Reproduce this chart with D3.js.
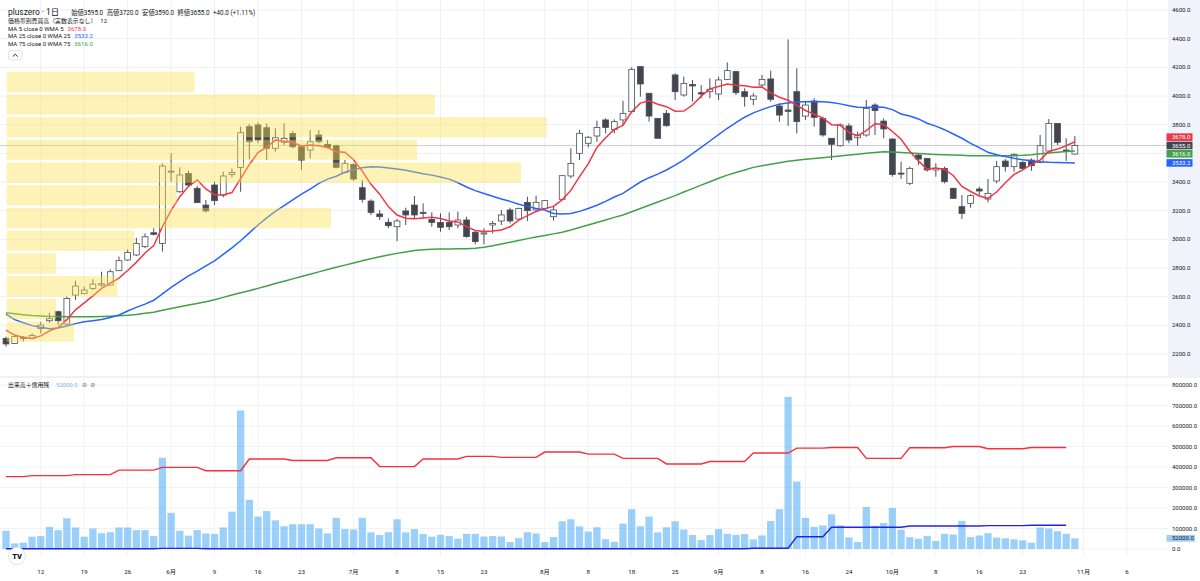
<!DOCTYPE html>
<html>
<head>
<meta charset="utf-8">
<script src="https://cdn.jsdelivr.net/npm/d3@7/dist/d3.min.js"></script>
<style>
body { margin: 0; background: #fff; }
svg text { font-family: Roboto, "Noto Sans CJK JP", sans-serif; fill: #131722; }
</style>
</head>
<body>
<svg id="chart" width="1200" height="581"></svg>
<script>
// daily bars, 2025-05-02 .. 2025-10-31 (index 0..123)
const opens = [2309,2274,2318,2309,2377,2432,2495,2409,2611,2623,2658,2681,2681,2781,2856,2891,2949,3046,2972,3470,
  3332,3460,3356,3239,3379,3309,3453,3502,3786,3798,3779,3635,3677,3739,3646,3623,3728,3663,3653,3467,
  3523,3360,3267,3177,3119,3088,3198,3239,3188,3139,3118,3118,3100,3135,3049,3037,3100,3128,3205,3142,
  3258,3205,3216,3158,3279,3442,3600,3670,3721,3833,3767,3833,3891,4205,4019,3844,3879,4147,4007,4081,
  4023,4030,4014,4116,4170,4030,3977,4077,4119,3930,3902,4030,3860,3965,3844,3705,3653,3791,3709,3728,
  3937,3825,3700,3462,3391,3588,3565,3484,3495,3356,3228,3251,3351,3281,3407,3546,3507,3537,3553,3537,
  3616,3809,3623,3595];
const highs = [2321,2332,2325,2344,2425,2488,2502,2600,2711,2670,2721,2774,2790,2879,2930,3011,3042,3077,3530,3600,
  3502,3479,3372,3274,3402,3472,3495,3786,3805,3815,3809,3774,3809,3756,3658,3763,3763,3693,3660,3553,
  3530,3414,3279,3205,3146,3142,3221,3302,3251,3188,3181,3188,3193,3158,3065,3077,3128,3205,3221,3221,
  3297,3305,3274,3228,3449,3635,3763,3721,3828,3844,3837,3967,4200,4205,4019,3844,3902,4158,4135,4112,
  4077,4123,4135,4235,4177,4054,4019,4147,4177,3949,4395,4193,3960,3984,3856,3705,3809,3809,3751,3972,
  3949,3844,3705,3542,3507,3600,3565,3530,3507,3360,3309,3314,3367,3421,3546,3560,3600,3546,3565,3728,
  3840,3809,3705,3720];
const lows = [2251,2270,2288,2304,2344,2418,2402,2402,2577,2620,2646,2670,2681,2781,2851,2884,2939,3028,2914,3402,
  3325,3367,3256,3188,3239,3293,3432,3332,3558,3670,3553,3612,3658,3635,3484,3565,3670,3635,3495,3460,
  3407,3256,3170,3135,3077,2988,3100,3146,3146,3088,3053,3065,3077,3011,2965,2965,3042,3100,3111,3128,
  3128,3200,3205,3130,3274,3426,3553,3642,3681,3740,3740,3798,3880,3995,3821,3705,3786,3972,3995,3960,
  3984,3984,3972,4112,4007,3926,3937,4065,3960,3821,3791,3739,3833,3786,3716,3553,3646,3670,3653,3716,
  3728,3705,3437,3421,3379,3519,3472,3437,3391,3283,3142,3221,3309,3258,3391,3472,3472,3484,3477,3530,
  3600,3658,3546,3590];
const closes = [2270,2321,2309,2330,2402,2446,2432,2588,2674,2646,2688,2690,2774,2851,2909,2972,3018,3035,3511,3476,
  3449,3379,3256,3198,3270,3442,3467,3744,3681,3693,3635,3709,3705,3646,3553,3681,3681,3642,3502,3530,
  3421,3279,3188,3158,3095,3128,3170,3170,3181,3118,3084,3088,3135,3019,2984,3045,3111,3170,3128,3216,
  3200,3258,3270,3205,3444,3530,3740,3712,3781,3781,3821,3879,4186,4084,3860,3705,3793,4030,4088,4070,
  4014,4047,4112,4177,4023,3995,4000,4116,3977,3867,3893,3821,3937,3851,3728,3663,3798,3693,3728,3914,
  3898,3770,3453,3458,3495,3560,3484,3495,3402,3286,3181,3305,3337,3321,3507,3507,3593,3495,3514,3653,
  3809,3677,3612,3655];
const volumes = [89000,27000,31000,60000,63000,108000,92000,150000,105000,60000,100000,77000,82000,105000,105000,92000,92000,63000,445000,176000,
  89000,65000,92000,76000,73000,105000,182000,676000,240000,158000,185000,140000,111000,121000,121000,121000,100000,76000,152000,97000,
  95000,152000,81000,68000,82000,145000,81000,97000,73000,60000,69000,63000,50000,74000,74000,61000,63000,61000,34000,53000,
  82000,76000,34000,58000,135000,145000,110000,85000,106000,48000,35000,124000,194000,111000,158000,81000,106000,135000,95000,68000,
  44000,68000,97000,74000,69000,73000,47000,66000,137000,194000,742000,329000,152000,108000,115000,169000,116000,56000,34000,205000,
  113000,127000,200000,94000,58000,50000,63000,39000,74000,71000,137000,58000,66000,77000,56000,52000,47000,42000,31000,105000,
  100000,87000,74000,52000];

// moving averages (MA5 first bars need earlier history)
const ma5Lead = [2367, 2332, 2316, 2309];
const ma25 = [2478,2440,2418,2398,2386,2376,2382,2395,2412,2425,2432,2440,2455,2472,2500,2525,2548,2575,2620,2665,
  2705,2745,2778,2815,2850,2895,2940,2990,3045,3100,3150,3195,3235,3275,3315,3350,3390,3420,3440,3468,
  3485,3500,3507,3505,3498,3490,3482,3470,3458,3448,3435,3420,3395,3365,3340,3320,3300,3282,3265,3245,
  3230,3215,3205,3180,3176,3180,3195,3215,3238,3265,3295,3321,3360,3400,3430,3455,3484,3518,3555,3598,
  3642,3686,3730,3775,3815,3852,3882,3905,3926,3942,3952,3958,3960,3961,3960,3955,3945,3932,3921,3920,
  3924,3922,3905,3875,3860,3840,3810,3790,3765,3735,3705,3670,3640,3607,3590,3577,3565,3556,3548,3542,
  3538,3536,3534,3533];
const ma75 = [2487,2480,2474,2468,2465,2462,2461,2460,2460,2460,2460,2462,2464,2466,2470,2476,2484,2492,2505,2518,
  2530,2542,2553,2565,2578,2595,2612,2627,2642,2658,2675,2692,2708,2724,2740,2757,2773,2790,2805,2820,
  2835,2850,2865,2878,2890,2902,2912,2922,2928,2930,2932,2933,2934,2935,2937,2945,2955,2968,2980,2992,
  3005,3016,3026,3038,3050,3065,3082,3100,3118,3135,3153,3170,3192,3215,3238,3260,3282,3305,3330,3354,
  3378,3402,3426,3448,3466,3484,3502,3514,3524,3534,3544,3552,3558,3564,3570,3576,3582,3588,3594,3600,
  3606,3611,3610,3606,3602,3598,3595,3592,3590,3588,3586,3584,3584,3583,3583,3583,3584,3586,3590,3597,
  3603,3608,3612,3616];

// weekly margin balances (bar index of the Friday they apply from)
const marginFri = [0,3,8,13,18,23,28,33,38,43,48,53,57,62,67,71,76,81,86,91,95,99,104,109,113,118];
const marginBuy = [353000,358000,363000,385000,398000,382000,439000,432000,445000,402000,439000,452000,447000,
  473000,463000,442000,415000,427000,468000,492000,495000,442000,494000,500000,489000,495000];
const marginSell = [1000,1000,1000,1000,3000,1000,1000,1000,1000,1000,1000,1000,1000,
  1000,1000,1000,1000,1000,4000,60000,106000,106000,112000,112000,114000,116000];
const marginLast = 122;

// volume-at-price profile, 12 rows from low to high
const profileLow = 2277, profileHigh = 4178;
const profileVol = [1250, 920, 2060, 920, 2374, 6035, 3165, 9568, 7636, 10046, 7967, 3496];

// time axis ticks (bar index, label)
const tickIdx = [4,9,14,19,24,29,34,40,45,50,55,62,67,72,77,82,87,92,97,102,107,112,117,124,129];
const tickLabels = ["12","19","26","6月","9","16","23","7月","8","15","23","8月","8","18","25","9月","8","16","24","10月","8","16","23","11月","6"];

const priceTicks = d3.range(2200, 4601, 200);
const volTicks = d3.range(0, 800001, 100000);

const lastVals = { ma5: 3678.0, close: 3655.0, ma75: 3616.0, ma25: 3533.2, vol: 52000 };

// ---------------------------------------------------------------
let svg = d3.select("#chart");
let plotW = 1168;
let mainH = 376, volTop = 378, volBottom = 556;
let step = 8.69;
let n = closes.length;

let x = d3.scaleLinear().domain([0, n - 1]).range([6, 6 + (n - 1) * step]);
let y = d3.scaleLinear().domain([2200, 4600]).range([354, 10]);
let yv = d3.scaleLinear().domain([0, 800000]).range([549, 385]);
let fmt = d3.format(".1f");

let ma5 = closes.map((c, i) => i < ma5Lead.length ? ma5Lead[i] : d3.mean(closes.slice(i - 4, i + 1)));

let defs = svg.append("defs");
defs.append("clipPath").attr("id", "clip-main").append("rect").attr("width", plotW).attr("height", mainH);
defs.append("clipPath").attr("id", "clip-vol").append("rect").attr("y", volTop).attr("width", plotW).attr("height", volBottom - volTop);

// axis background of the price pane
svg.append("rect").attr("x", plotW).attr("y", 0).attr("width", 1200 - plotW).attr("height", mainH).style("fill", "#f0f3fa");

// grid
let grid = svg.append("g");
grid.selectAll(".hg").data(priceTicks).join("line")
  .attr("x1", 0).attr("x2", plotW).attr("y1", d => y(d)).attr("y2", d => y(d))
  .style("stroke", "#eef0f5");
grid.selectAll(".vhg").data(volTicks).join("line")
  .attr("x1", 0).attr("x2", plotW).attr("y1", d => yv(d)).attr("y2", d => yv(d))
  .style("stroke", "#f1f2f6");
tickIdx.forEach(function(t) {
  grid.append("line").attr("x1", x(t)).attr("x2", x(t)).attr("y1", 0).attr("y2", mainH).style("stroke", "#eef0f5");
  grid.append("line").attr("x1", x(t)).attr("x2", x(t)).attr("y1", volTop).attr("y2", volBottom).style("stroke", "#f1f2f6");
});

// pane separator
svg.append("line").attr("x1", 0).attr("x2", 1200).attr("y1", mainH + 1).attr("y2", mainH + 1).style("stroke", "#e0e3eb");

// main pane
let main = svg.append("g").attr("clip-path", "url(#clip-main)");

main.append("line")
  .attr("x1", 0).attr("x2", plotW)
  .attr("y1", y(lastVals.close)).attr("y2", y(lastVals.close))
  .style("stroke", "#c9ccd3").style("stroke-width", 1);

let bodyW = 5.8;
let candles = main.append("g");
closes.forEach(function(c, i) {
  let o = opens[i], up = c >= o;
  let g = candles.append("g");
  g.append("line")
    .attr("x1", x(i)).attr("x2", x(i))
    .attr("y1", y(highs[i])).attr("y2", y(lows[i]))
    .style("stroke", "#4a4d57").style("stroke-width", 1);
  let top = y(Math.max(o, c)), bot = y(Math.min(o, c));
  g.append("rect")
    .attr("x", x(i) - bodyW / 2).attr("y", top)
    .attr("width", bodyW).attr("height", Math.max(1, bot - top))
    .style("fill", up ? "#fff" : "#434651")
    .style("stroke", "#4a4d57").style("stroke-width", 0.8);
});

let maLine = d3.line().x((d, i) => x(i)).y(d => y(d));
[[ma75, "#43a047"], [ma25, "#2962ff"], [ma5, "#f23645"]].forEach(function(m) {
  main.append("path").datum(m[0]).attr("d", maLine)
    .style("fill", "none").style("stroke", m[1]).style("stroke-width", 1.5);
});

// volume profile on top (translucent), anchored at the first bar
let rowStep = (profileHigh - profileLow) / profileVol.length;
let px = d3.scaleLinear().domain([0, d3.max(profileVol)]).range([0, plotW * 0.4623]);
main.append("g").selectAll("rect").data(profileVol).join("rect")
  .attr("x", x(0) + 0.7)
  .attr("y", (d, i) => y(profileLow + (i + 1) * rowStep) + 1.2)
  .attr("width", d => px(d))
  .attr("height", (d, i) => y(profileLow + i * rowStep) - y(profileLow + (i + 1) * rowStep) - 2.4)
  .style("fill", "rgba(252,224,72,0.40)");

// volume pane
let vol = svg.append("g").attr("clip-path", "url(#clip-vol)");
let barW = 7.3;
vol.selectAll("rect").data(volumes).join("rect")
  .attr("x", (d, i) => x(i) - barW / 2)
  .attr("y", d => yv(d))
  .attr("width", barW)
  .attr("height", d => yv(0) - yv(d))
  .style("fill", "rgba(33,150,243,0.45)");

let marginAt = (arr, k) => arr[d3.bisectRight(marginFri, k) - 1];
let mIdx = d3.range(0, marginLast + 1);
let vLine = arr => d3.line().x(k => x(k)).y(k => yv(marginAt(arr, k)))(mIdx);
vol.append("path").attr("d", vLine(marginBuy)).style("fill", "none").style("stroke", "#f5303c").style("stroke-width", 1.4);
vol.append("path").attr("d", vLine(marginSell)).style("fill", "none").style("stroke", "#2424dc").style("stroke-width", 1.4);

// right axes
let axisX = 1172;
svg.append("g").selectAll("text").data(priceTicks).join("text")
  .attr("x", axisX).attr("y", d => y(d)).attr("dy", "0.35em")
  .style("font-size", "6px").text(d => fmt(d));
svg.append("g").selectAll("text").data(volTicks).join("text")
  .attr("x", axisX).attr("y", d => yv(d)).attr("dy", "0.35em")
  .style("font-size", "6px").text(d => fmt(d));

// last value badges
let badges = [
  { v: lastVals.ma5, c: "#f23645" },
  { v: lastVals.close, c: "#434651", fixed: true },
  { v: lastVals.ma75, c: "#43a047" },
  { v: lastVals.ma25, c: "#2962ff" }
].sort((a, b) => b.v - a.v);
let bh = 8.3;
badges.forEach(d => d.y = y(d.v));
let ci = badges.findIndex(d => d.fixed);
for (let i = ci - 1; i >= 0; i--) badges[i].y = Math.min(badges[i].y, badges[i + 1].y - bh);
for (let i = ci + 1; i < badges.length; i++) badges[i].y = Math.max(badges[i].y, badges[i - 1].y + bh);
badges.forEach(function(d) {
  svg.append("rect").attr("x", 1166.5).attr("y", d.y - 3.8).attr("width", 26).attr("height", 7.6).style("fill", d.c);
  svg.append("text").attr("x", axisX).attr("y", d.y).attr("dy", "0.35em")
    .style("font-size", "6px").style("fill", "#fff").text(fmt(d.v));
});
svg.append("rect").attr("x", 1166.5).attr("y", yv(lastVals.vol) - 3.4).attr("width", 28.5).attr("height", 6.8).style("fill", "#9fcdfa");
svg.append("text").attr("x", axisX).attr("y", yv(lastVals.vol)).attr("dy", "0.35em")
  .style("font-size", "6px").text(fmt(lastVals.vol));

// time axis
svg.append("g").selectAll("text").data(tickIdx).join("text")
  .attr("x", d => x(d)).attr("y", 572).attr("dy", "0.35em")
  .style("font-size", "6.2px").style("text-anchor", "middle")
  .text((d, i) => tickLabels[i]);

// legend: items laid out one after another on a row
let leg = svg.append("g");
function legendRow(yy, items) {
  let cx = 8;
  items.forEach(function(it) {
    cx += it.gap || 0;
    let t = leg.append("text").attr("x", cx).attr("y", yy).attr("dy", "0.35em")
      .style("font-size", it.size + "px").style("fill", it.color || "#131722").text(it.text);
    if (it.font) t.style("font-family", it.font);
    cx += t.node().getComputedTextLength();
  });
}
legendRow(12.5, [
  { text: "pluszero · 1日", size: 8.4 },
  { text: "始値3595.0", size: 6.3, gap: 12 },
  { text: "高値3720.0", size: 6.3, gap: 3.5 },
  { text: "安値3590.0", size: 6.3, gap: 3.5 },
  { text: "終値3655.0", size: 6.3, gap: 3.5 },
  { text: "+40.0 (+1.11%)", size: 6.3, gap: 3.5 }
]);
legendRow(20.5, [
  { text: "価格帯別売買高（実数表示なし）", size: 5.9 },
  { text: "12", size: 6, gap: 4 }
]);
legendRow(28.7, [{ text: "MA 5 close 0 WMA 5", size: 6 }, { text: "3678.0", size: 6, color: "#f23645", gap: 4 }]);
legendRow(36.2, [{ text: "MA 25 close 0 WMA 25", size: 6 }, { text: "3533.2", size: 6, color: "#2962ff", gap: 4 }]);
legendRow(43.7, [{ text: "MA 75 close 0 WMA 75", size: 6 }, { text: "3616.0", size: 6, color: "#43a047", gap: 4 }]);

leg.append("rect").attr("x", 8.5).attr("y", 50.5).attr("width", 13.5).attr("height", 9.5).attr("rx", 2)
  .style("fill", "#fff").style("stroke", "#e0e3eb");
leg.append("path").attr("d", "M12.8,56.6 L15.25,54.2 L17.7,56.6").style("fill", "none").style("stroke", "#131722").style("stroke-width", 0.9);

legendRow(385, [
  { text: "出来高＋信用残", size: 5.9 },
  { text: "52000.0", size: 5.9, color: "#7cb5f7", gap: 7 },
  { text: "⊘", size: 6.5, color: "#787b86", gap: 4, font: "'DejaVu Sans', sans-serif" },
  { text: "⊘", size: 6.5, color: "#787b86", gap: 3, font: "'DejaVu Sans', sans-serif" }
]);

// logo
svg.append("circle").attr("cx", 17).attr("cy", 556).attr("r", 8.5).style("fill", "#fff").style("stroke", "#e0e3eb");
svg.append("text").attr("x", 17).attr("y", 556.5).attr("dy", "0.35em").style("text-anchor", "middle")
  .style("font-size", "7.5px").style("font-weight", "900").text("TV");
</script>
</body>
</html>
